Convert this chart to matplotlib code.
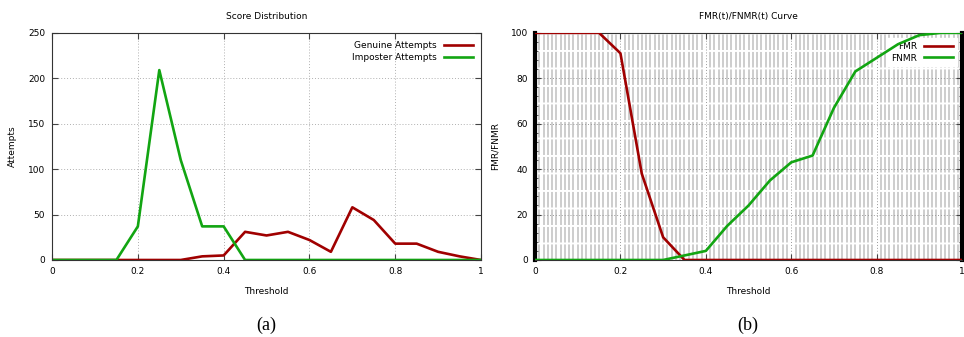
import numpy as np
import matplotlib.pyplot as plt

thresholds = [0.0, 0.05, 0.1, 0.15, 0.2, 0.25, 0.3, 0.35, 0.4, 0.45, 0.5,
              0.55, 0.6, 0.65, 0.7, 0.75, 0.8, 0.85, 0.9, 0.95, 1.0]
genuine = [0, 0, 0, 0, 0, 0, 0, 4, 5, 31, 27, 31, 22, 9, 58, 44, 18, 18, 9, 4, 0]
imposter = [0, 0, 0, 0, 37, 209, 110, 37, 37, 0, 0, 0, 0, 0, 0, 0, 0, 0, 0, 0, 0]
fmr = [100, 100, 100, 100, 91, 38, 10, 0, 0, 0, 0, 0, 0, 0, 0, 0, 0, 0, 0, 0, 0]
fnmr = [0, 0, 0, 0, 0, 0, 0, 2, 4, 15, 24, 35, 43, 46, 67, 83, 89, 95, 99, 100, 100]
x_ticks = [0, 0.2, 0.4, 0.6, 0.8, 1]
x_tick_labels = ['0', '0.2', '0.4', '0.6', '0.8', '1']

red = '#a00000'
green = '#12a512'
fs = 6.5

fig = plt.figure(figsize=(9.64, 3.37), dpi=100)
ax1 = fig.add_axes([0.054, 0.2285, 0.445, 0.674])
ax2 = fig.add_axes([0.555, 0.2285, 0.443, 0.674])

# left: score distribution
ax1.plot(thresholds, genuine, color=red, lw=1.9, label='Genuine Attempts')
ax1.plot(thresholds, imposter, color=green, lw=1.9, label='Imposter Attempts')
ax1.set_xlim(0, 1)
ax1.set_ylim(0, 250)
ax1.set_yticks([0, 50, 100, 150, 200, 250])
ax1.set_title('Score Distribution', fontsize=fs, pad=10)
ax1.set_ylabel('Attempts', fontsize=fs, labelpad=8)
ax1.grid(True, color='#b0b0b0', ls=(0, (1, 2)), lw=0.7)
ax1.legend(loc='upper right', frameon=False, fontsize=fs, markerfirst=False,
           handlelength=3.2, labelspacing=0.3)

# right: FMR / FNMR
ax2.set_xticks(np.arange(0, 1.0001, 0.01), minor=True)
ax2.grid(True, which='minor', axis='x', color='#cdcdcd', lw=1.4, ls=(0, (8, 1)))
ax2.grid(True, which='major', color='#9a9a9a', ls=(0, (1, 2)), lw=0.7)
ax2.plot(thresholds, fmr, color=red, lw=1.9, label='FMR', zorder=3)
ax2.plot(thresholds, fnmr, color=green, lw=1.9, label='FNMR', zorder=3)
ax2.set_xlim(0, 1)
ax2.set_ylim(0, 100)
ax2.set_yticks([0, 20, 40, 60, 80, 100])
ax2.set_yticks(np.arange(0, 101, 4), minor=True)
ax2.set_title('FMR(t)/FNMR(t) Curve', fontsize=fs, pad=10)
ax2.set_ylabel('FMR/FNMR', fontsize=fs, labelpad=8)
leg = ax2.legend(loc='upper right', frameon=True, fontsize=fs, markerfirst=False,
                 handlelength=3.2, labelspacing=0.3, fancybox=False,
                 borderaxespad=0.6)
leg.get_frame().set_edgecolor('white')
leg.get_frame().set_alpha(1)
leg.set_zorder(2)
ax2.spines['left'].set_linewidth(3)
ax2.spines['right'].set_linewidth(3)

for ax in (ax1, ax2):
    ax.set_xticks(x_ticks)
    ax.set_xticklabels(x_tick_labels)
    ax.set_xlabel('Threshold', fontsize=fs, labelpad=8)
    ax.tick_params(which='both', direction='in', top=True, right=True,
                   labelsize=fs, color='#444444')
    ax.tick_params(which='major', length=4, pad=5)
    ax.tick_params(axis='x', which='minor', length=0)
    for s in ax.spines.values():
        s.set_color('#333333')
ax1.tick_params(which='minor', length=0)
ax2.tick_params(axis='y', which='minor', length=2)
ax2.spines['left'].set_color('black')
ax2.spines['right'].set_color('black')

fig.text(0.276, 0.02, '(a)', fontsize=13, family='Liberation Serif', ha='center')
fig.text(0.776, 0.02, '(b)', fontsize=13, family='Liberation Serif', ha='center')

fig.savefig('out.png', dpi=100)
